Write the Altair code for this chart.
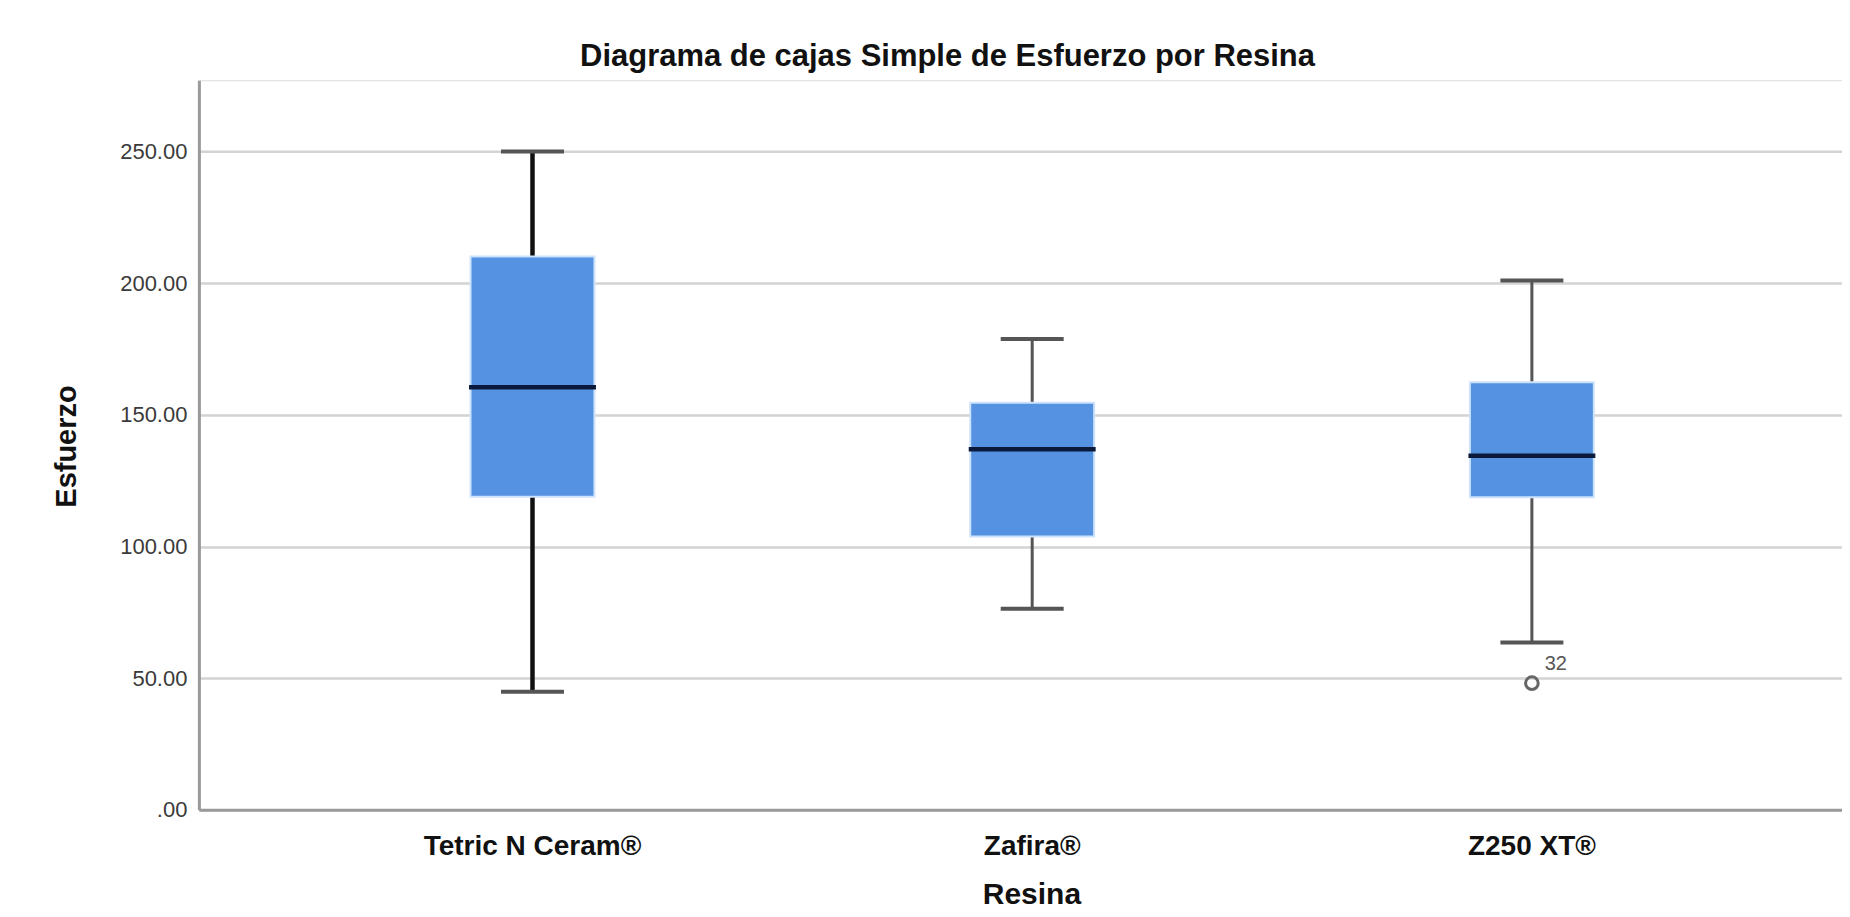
import altair as alt
import pandas as pd

categories = ["Tetric N Ceram®", "Zafira®", "Z250 XT®"]
mins = [44.8, 76.4, 63.5]
q1s = [118.9, 103.8, 118.7]
medians = [160.5, 136.9, 134.5]
q3s = [210.1, 154.6, 162.4]
maxs = [250.0, 178.8, 201.0]

outlier_cat = ["Z250 XT®"]
outlier_val = [48.1]
outlier_lab = ["32"]

y_ticks = [0, 50, 100, 150, 200, 250]

stats = pd.DataFrame({
    "Resina": categories, "min": mins, "q1": q1s,
    "median": medians, "q3": q3s, "max": maxs,
})
outl = pd.DataFrame({"Resina": outlier_cat, "Esfuerzo": outlier_val, "id": outlier_lab})

FONT = "Liberation Sans"

xscale = alt.Scale(domain=categories, range=[0, 1667.5], paddingInner=0.752, paddingOuter=0.5436)
yscale = alt.Scale(domain=[0, 277.1], nice=False, zero=True)

x_enc = alt.X(
    "Resina:N", scale=xscale, sort=categories,
    axis=alt.Axis(
        title="Resina", titleFont=FONT, titleFontSize=30, titleFontWeight="bold",
        titleColor="#111111", titleX=833, titleY=85, titleBaseline="middle",
        titleAlign="center", labelFont=FONT, labelFontSize=28, labelFontWeight="bold",
        labelColor="#111111", labelAngle=0, labelBaseline="middle", labelPadding=37,
        labelLimit=0, labelOverlap=False,
        ticks=False, domainColor="#9a9a9a", domainWidth=3, grid=False,
    ),
)
y_axis = alt.Axis(
    title="Esfuerzo", titleFont=FONT, titleFontSize=29, titleFontWeight="bold",
    titleColor="#111111", titleX=-132, titleY=366, titleBaseline="middle",
    titleAlign="center", titleAngle=-90,
    values=y_ticks, labelExpr="datum.value == 0 ? '.00' : format(datum.value, '.2f')",
    labelFont=FONT, labelFontSize=22, labelColor="#3a3a3a", labelPadding=12,
    ticks=False, domainColor="#9a9a9a", domainWidth=3,
    grid=True, gridColor="#d3d3d3", gridWidth=2.5,
)

base = alt.Chart(stats).encode(x=x_enc)

whisker = base.mark_rule().encode(
    y=alt.Y("min:Q", scale=yscale, axis=y_axis),
    y2="max:Q",
    color=alt.condition(alt.datum.Resina == categories[0], alt.value("#111111"), alt.value("#555555")),
    strokeWidth=alt.condition(alt.datum.Resina == categories[0], alt.value(4.5), alt.value(3)),
)
caps_low = base.mark_tick(size=63, thickness=4, color="#555555", opacity=1).encode(y=alt.Y("min:Q", scale=yscale))
caps_high = base.mark_tick(size=63, thickness=4, color="#555555", opacity=1).encode(y=alt.Y("max:Q", scale=yscale))
box = base.mark_bar(color="#5593e2", stroke="#cde3fb", strokeWidth=2).encode(
    y=alt.Y("q1:Q", scale=yscale), y2="q3:Q"
)
median = base.mark_tick(size=127, thickness=4.5, color="#0b1a3a", opacity=1).encode(
    y=alt.Y("median:Q", scale=yscale)
)

outlier = alt.Chart(outl).mark_point(shape="circle", size=160, filled=False, color="#666666", strokeWidth=3, opacity=1).encode(
    x=alt.X("Resina:N", scale=xscale, sort=categories),
    y=alt.Y("Esfuerzo:Q", scale=yscale),
)
outlier_label = alt.Chart(outl).mark_text(dx=24, dy=-19, font=FONT, fontSize=20, color="#555555").encode(
    x=alt.X("Resina:N", scale=xscale, sort=categories),
    y=alt.Y("Esfuerzo:Q", scale=yscale),
    text="id:N",
)

chart = alt.layer(whisker, caps_low, caps_high, box, median, outlier, outlier_label).properties(
    width=1644, height=730,
    title=alt.TitleParams(
        text="Diagrama de cajas Simple de Esfuerzo por Resina", font=FONT, fontSize=31,
        fontWeight="bold", color="#111111", anchor="middle", dx=-73, offset=7,
    ),
    autosize=alt.AutoSizeParams(type="none"),
    padding={"left": 191, "top": 72, "right": 0, "bottom": 100},
).configure_view(strokeWidth=0).configure(background="white")

chart.save("out.html", embed_options={"renderer": "svg", "actions": False})
